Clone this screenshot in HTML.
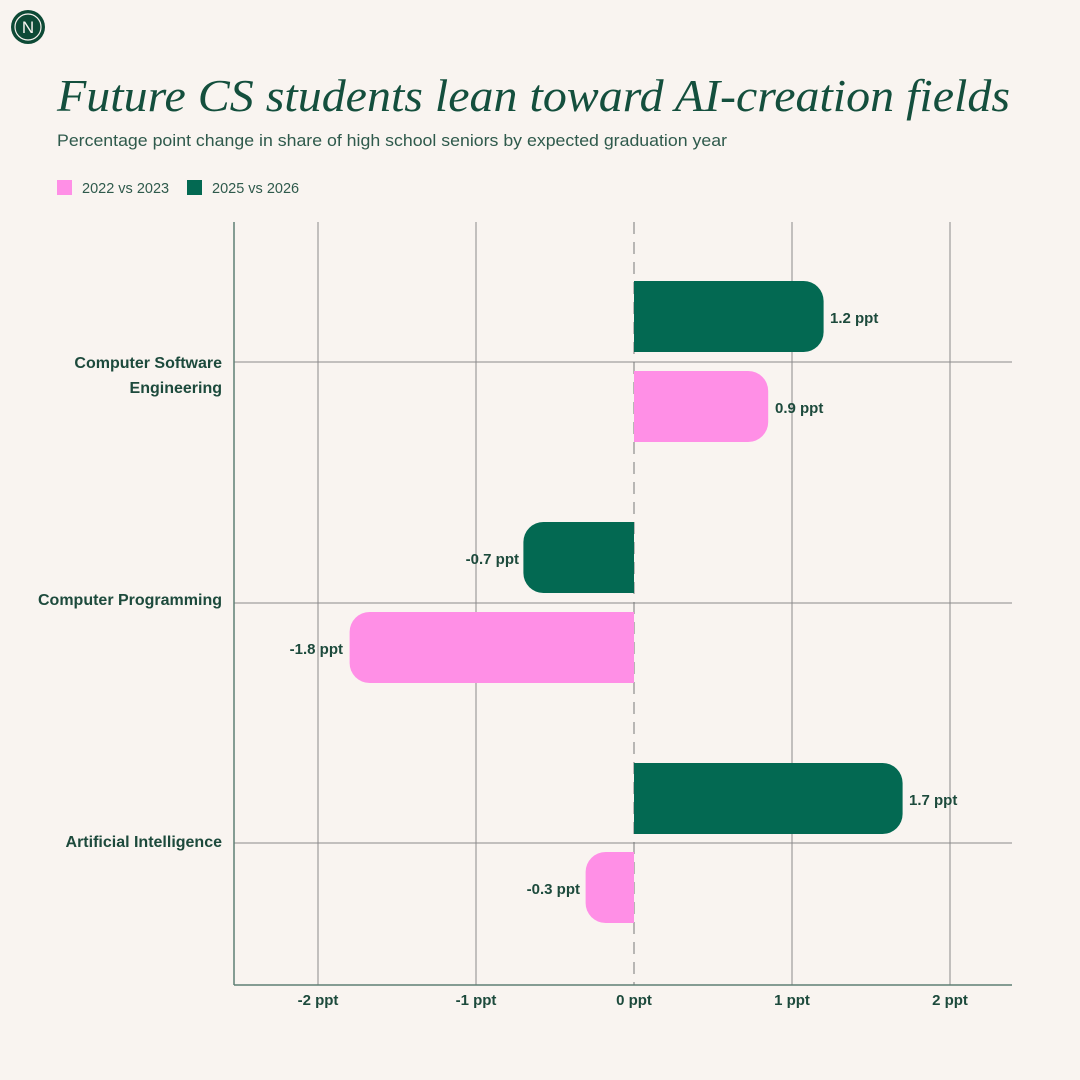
<!DOCTYPE html>
<html><head><meta charset="utf-8"><style>
html,body{margin:0;padding:0;background:#f9f4f0}
svg{display:block}
.s{font-family:"Liberation Sans",sans-serif}
</style></head><body>
<svg width="1080" height="1080" viewBox="0 0 1080 1080" xmlns="http://www.w3.org/2000/svg">
<rect width="1080" height="1080" fill="#f9f4f0"/>
<circle cx="28" cy="27" r="17" fill="#0d4a36"/>
<circle cx="28" cy="27" r="13" fill="none" stroke="#f9f4f0" stroke-width="1.2"/>
<text x="28" y="33" text-anchor="middle" font-family="Liberation Sans,sans-serif" font-size="17" fill="#f9f4f0">N</text>
<text x="57" y="111" font-family="Liberation Serif,serif" font-style="italic" font-size="46" fill="#144f3d" textLength="953" lengthAdjust="spacingAndGlyphs">Future CS students lean toward AI-creation fields</text>
<text x="57" y="146" class="s" font-size="17" fill="#2f5a4c" textLength="670" lengthAdjust="spacingAndGlyphs">Percentage point change in share of high school seniors by expected graduation year</text>
<rect x="57" y="180" width="15" height="15" fill="#ff8fe6"/>
<text x="82" y="193" class="s" font-size="14.5" fill="#2f5a4c">2022 vs 2023</text>
<rect x="187" y="180" width="15" height="15" fill="#036952"/>
<text x="212" y="193" class="s" font-size="14.5" fill="#2f5a4c">2025 vs 2026</text>
<g stroke="#8a8a8a" stroke-width="1">
<line x1="318" y1="222" x2="318" y2="985"/>
<line x1="476" y1="222" x2="476" y2="985"/>
<line x1="792" y1="222" x2="792" y2="985"/>
<line x1="950" y1="222" x2="950" y2="985"/>
<line x1="234" y1="362" x2="1012" y2="362"/>
<line x1="234" y1="603" x2="1012" y2="603"/>
<line x1="234" y1="843" x2="1012" y2="843"/>
<line x1="634" y1="222" x2="634" y2="985" stroke-dasharray="12,8" stroke="#777"/>
</g>
<line x1="234" y1="222" x2="234" y2="985" stroke="#5f7f74" stroke-width="1.5"/>
<line x1="234" y1="985" x2="1012" y2="985" stroke="#5f7f74" stroke-width="1.5"/>
<path d="M634,281 H803.6 A20,20 0 0 1 823.6,301 V332 A20,20 0 0 1 803.6,352 H634Z" fill="#036952"/>
<path d="M634,371 H748.2 A20,20 0 0 1 768.2,391 V422 A20,20 0 0 1 748.2,442 H634Z" fill="#ff8fe6"/>
<path d="M634,522 H543.4 A20,20 0 0 0 523.4,542 V573 A20,20 0 0 0 543.4,593 H634Z" fill="#036952"/>
<path d="M634,612 H369.6 A20,20 0 0 0 349.6,632 V663 A20,20 0 0 0 369.6,683 H634Z" fill="#ff8fe6"/>
<path d="M634,763 H882.6 A20,20 0 0 1 902.6,783 V814 A20,20 0 0 1 882.6,834 H634Z" fill="#036952"/>
<path d="M634,852 H605.6 A20,20 0 0 0 585.6,872 V903 A20,20 0 0 0 605.6,923 H634Z" fill="#ff8fe6"/>
<g class="s" font-size="15" font-weight="bold" fill="#1d4a3c">
<text x="830" y="323">1.2 ppt</text>
<text x="775" y="413">0.9 ppt</text>
<text x="519" y="564" text-anchor="end">-0.7 ppt</text>
<text x="343" y="654" text-anchor="end">-1.8 ppt</text>
<text x="909" y="805">1.7 ppt</text>
<text x="580" y="894" text-anchor="end">-0.3 ppt</text>
<g text-anchor="end" font-size="16">
<text x="222" y="368">Computer Software</text>
<text x="222" y="393">Engineering</text>
<text x="222" y="605">Computer Programming</text>
<text x="222" y="847">Artificial Intelligence</text>
</g>
<g text-anchor="middle">
<text x="318" y="1005">-2 ppt</text>
<text x="476" y="1005">-1 ppt</text>
<text x="634" y="1005">0 ppt</text>
<text x="792" y="1005">1 ppt</text>
<text x="950" y="1005">2 ppt</text>
</g>
</g>
</svg>
</body></html>
